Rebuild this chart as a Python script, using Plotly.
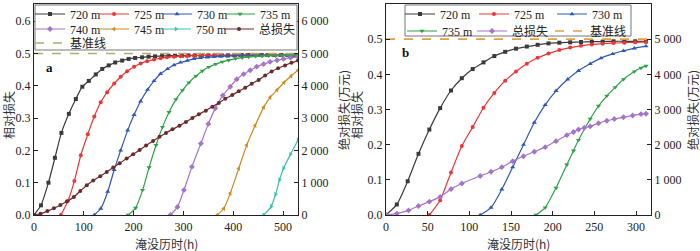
import plotly.graph_objects as go

# ---------------- Panel a data ----------------
a720_x = [0, 14, 29, 42, 55, 70, 84, 97, 110, 124, 137, 150, 163, 177, 190, 203, 217, 230, 243, 257, 270, 283, 297, 310, 323, 337, 350, 363, 377, 390, 403, 417, 430, 443, 457, 470, 483, 497, 510, 523, 530]
a720_y = [0, 0.030, 0.100, 0.177, 0.254, 0.313, 0.359, 0.397, 0.415, 0.435, 0.452, 0.463, 0.472, 0.478, 0.483, 0.486, 0.488, 0.490, 0.491, 0.492, 0.493, 0.493, 0.493, 0.494, 0.494, 0.494, 0.494, 0.494, 0.494, 0.494, 0.494, 0.495, 0.495, 0.495, 0.495, 0.495, 0.495, 0.495, 0.495, 0.495, 0.495]

a725_x = [54, 68, 81, 94, 108, 121, 134, 147, 161, 174, 187, 201, 214, 227, 241, 254, 267, 281, 294, 307, 321, 334, 347, 361, 374, 387, 401, 414, 427, 441, 454, 467, 481, 494, 507, 521, 530]
a725_y = [0, 0.043, 0.105, 0.185, 0.250, 0.305, 0.349, 0.380, 0.407, 0.428, 0.445, 0.459, 0.469, 0.476, 0.481, 0.485, 0.488, 0.490, 0.491, 0.492, 0.493, 0.493, 0.494, 0.494, 0.494, 0.494, 0.494, 0.495, 0.495, 0.495, 0.495, 0.495, 0.495, 0.495, 0.495, 0.495, 0.495]

a730_x = [121, 134, 148, 161, 174, 188, 201, 214, 228, 241, 254, 268, 281, 294, 308, 321, 334, 348, 361, 374, 388, 401, 414, 428, 441, 454, 468, 481, 494, 508, 521, 530]
a730_y = [0, 0.020, 0.072, 0.140, 0.200, 0.262, 0.310, 0.352, 0.388, 0.415, 0.437, 0.452, 0.464, 0.472, 0.478, 0.483, 0.486, 0.488, 0.490, 0.491, 0.492, 0.493, 0.493, 0.493, 0.494, 0.494, 0.494, 0.494, 0.494, 0.494, 0.494, 0.494]

a735_x = [189, 204, 218, 231, 245, 258, 271, 285, 298, 311, 325, 338, 351, 365, 378, 391, 405, 418, 431, 445, 458, 471, 485, 498, 511, 525, 530]
a735_y = [0, 0.022, 0.077, 0.147, 0.216, 0.272, 0.318, 0.358, 0.386, 0.410, 0.430, 0.446, 0.458, 0.467, 0.474, 0.479, 0.484, 0.487, 0.489, 0.491, 0.492, 0.493, 0.493, 0.494, 0.494, 0.494, 0.494]

a740_x = [274, 288, 301, 317, 335, 350, 364, 379, 394, 407, 421, 434, 447, 461, 474, 488, 501, 515, 530]
a740_y = [0, 0.025, 0.077, 0.149, 0.221, 0.282, 0.330, 0.370, 0.397, 0.420, 0.436, 0.448, 0.459, 0.467, 0.474, 0.479, 0.483, 0.487, 0.489]

a745_x = [368, 381, 394, 411, 427, 444, 461, 474, 488, 502, 516, 530]
a745_y = [0, 0.020, 0.067, 0.144, 0.216, 0.277, 0.333, 0.364, 0.387, 0.410, 0.430, 0.448]

a750_x = [461, 476, 485, 493, 501, 515, 530]
a750_y = [0, 0.026, 0.064, 0.109, 0.145, 0.188, 0.232]

atot_x = [0, 13, 27, 40, 53, 66, 80, 93, 106, 119, 133, 146, 159, 172, 186, 199, 212, 225, 239, 252, 265, 278, 292, 305, 318, 331, 345, 358, 371, 384, 398, 411, 424, 437, 451, 464, 477, 490, 504, 517, 530]
atot_y = [0, 40, 120, 210, 310, 420, 560, 740, 920, 1070, 1200, 1330, 1470, 1600, 1750, 1880, 2010, 2150, 2290, 2420, 2540, 2650, 2760, 2880, 3000, 3120, 3230, 3350, 3470, 3600, 3710, 3830, 3940, 4060, 4180, 4320, 4440, 4540, 4630, 4710, 4780]

# ---------------- Panel b data ----------------
b720_x = [0, 13, 26, 39, 52, 65, 78, 91, 104, 117, 130, 143, 156, 169, 182, 195, 208, 221, 234, 247, 260, 273, 286, 299, 312]
b720_y = [0, 0.030, 0.096, 0.174, 0.243, 0.304, 0.354, 0.389, 0.415, 0.434, 0.452, 0.464, 0.473, 0.479, 0.484, 0.488, 0.490, 0.491, 0.492, 0.493, 0.493, 0.494, 0.494, 0.494, 0.494]

b725_x = [52, 65, 78, 91, 104, 117, 130, 143, 156, 169, 182, 195, 208, 221, 234, 247, 260, 273, 286, 299, 312]
b725_y = [0, 0.042, 0.121, 0.196, 0.250, 0.305, 0.347, 0.382, 0.408, 0.430, 0.447, 0.459, 0.469, 0.476, 0.481, 0.485, 0.487, 0.489, 0.490, 0.491, 0.492]

b730_x = [113, 126, 139, 152, 165, 178, 191, 204, 218, 231, 245, 258, 272, 285, 298, 312]
b730_y = [0, 0.021, 0.073, 0.136, 0.200, 0.263, 0.313, 0.353, 0.386, 0.410, 0.430, 0.446, 0.458, 0.467, 0.474, 0.480]

b735_x = [180, 191, 204, 217, 225, 231, 245, 255, 265, 275, 285, 298, 306, 312]
b735_y = [0, 0.021, 0.077, 0.143, 0.183, 0.213, 0.273, 0.310, 0.339, 0.363, 0.386, 0.408, 0.418, 0.424]

btot_x = [0, 13, 27, 39, 52, 65, 78, 91, 113, 126, 139, 152, 165, 178, 191, 204, 217, 225, 231, 238, 245, 255, 265, 274, 285, 296, 306, 312]
btot_y = [0, 40, 130, 255, 380, 515, 736, 896, 1110, 1230, 1360, 1530, 1670, 1800, 1930, 2100, 2270, 2360, 2430, 2480, 2520, 2610, 2680, 2730, 2780, 2830, 2870, 2880]

baseline_a = [0.5, 0.5]
baseline_b = [0.5, 0.5]
xrange_a = [0, 530]
xrange_b = [0, 318]

SERIF = "Liberation Serif, Noto Sans CJK SC"
CJK = "Noto Sans CJK SC"

C720 = "#3a3a3a"
C725 = "#f03434"
C730 = "#2f58b5"
C735 = "#2fa246"
C740 = "#a374c9"
C745 = "#d08a1e"
C750 = "#3cbfb6"
CTOT_A = "#6b2b2b"
CBASE_A = "#b3aa70"
CBASE_B = "#e3a040"

L, R, T, B = 34, 49, 4, 36
W, H = 700, 251
PW = W - L - R
PH = H - T - B

def px(xp):
    return (xp - L) / PW

def py(yp):
    return (H - B - yp) / PH

fig = go.Figure()
leg_pos = []  # (legend id, x px of item start, y px of row centre)

def legend_id(pos):
    leg_pos.append(pos)
    n = len(leg_pos)
    return "legend" if n == 1 else "legend%d" % n

def add(x, y, name, color, symbol, xa, ya, pos, size=4):
    fig.add_trace(go.Scatter(
        x=x, y=y, name=name, mode="lines+markers", line=dict(color=color, width=1.2, shape="spline", smoothing=0.6),
        marker=dict(symbol=symbol, size=size, color=color), xaxis=xa, yaxis=ya, legend=legend_id(pos)))

# panel a
add(a720_x, a720_y, "720 m", C720, "square", "x", "y", (30, 14))
add(a725_x, a725_y, "725 m", C725, "circle", "x", "y", (94, 14))
add(a730_x, a730_y, "730 m", C730, "triangle-up", "x", "y", (157, 14), 4.5)
add(a735_x, a735_y, "735 m", C735, "triangle-down", "x", "y", (220, 14), 4.5)
add(a740_x, a740_y, "740 m", C740, "diamond", "x", "y", (30, 29), 4.5)
add(a745_x, a745_y, "745 m", C745, "triangle-left", "x", "y", (94, 29), 4.5)
add(a750_x, a750_y, "750 m", C750, "triangle-right", "x", "y", (156, 29), 4.5)
add(atot_x, atot_y, "总损失", CTOT_A, "circle", "x", "y2", (219, 29))
fig.add_trace(go.Scatter(x=xrange_a, y=baseline_a, name="基准线", mode="lines",
                         line=dict(color=CBASE_A, width=1.6, dash="dash"), xaxis="x", yaxis="y",
                         legend=legend_id((30, 43))))

# panel b
add(b720_x, b720_y, "720 m", C720, "square", "x2", "y3", (400, 14))
add(b725_x, b725_y, "725 m", C725, "circle", "x2", "y3", (474, 14))
add(b730_x, b730_y, "730 m", C730, "triangle-up", "x2", "y3", (552, 14), 4.5)
add(b735_x, b735_y, "735 m", C735, "triangle-down", "x2", "y3", (402, 31), 4.5)
add(btot_x, btot_y, "总损失", C740, "diamond", "x2", "y4", (472, 31), 4.5)
fig.add_trace(go.Scatter(x=xrange_b, y=baseline_b, name="基准线", mode="lines",
                         line=dict(color=CBASE_B, width=1.6, dash="dash"), xaxis="x2", yaxis="y3",
                         legend=legend_id((550, 31))))

axis_common = dict(showline=True, linecolor="#222", linewidth=1.2, ticks="inside", ticklen=4,
                   tickcolor="#222", showgrid=False, zeroline=False, automargin=False,
                   tickfont=dict(family=SERIF, size=12, color="#222"))

right_vals = [0, 1000, 2000, 3000, 4000, 5000, 6000]
right_text = ["0", "1 000", "2 000", "3 000", "4 000", "5 000", "6 000"]
left_vals = [0, 0.1, 0.2, 0.3, 0.4, 0.5, 0.6]

fig.update_layout(
    width=W, height=H, margin=dict(l=L, r=R, t=T, b=B, autoexpand=False),
    paper_bgcolor="white", plot_bgcolor="white",
    xaxis=dict(domain=[0, px(298)], range=xrange_a, anchor="y", mirror=True, dtick=100, **axis_common),
    yaxis=dict(domain=[0, 1], range=[0, 0.653], anchor="x", tickvals=left_vals, tickformat=".1f", **axis_common),
    yaxis2=dict(range=[0, 6530], anchor="x", overlaying="y", side="right", tickvals=right_vals, ticktext=right_text, **axis_common),
    xaxis2=dict(domain=[px(386), 1], range=xrange_b, anchor="y3", mirror=True, dtick=50, **axis_common),
    yaxis3=dict(domain=[0, 1], range=[0, 0.6], anchor="x2", tickvals=left_vals, tickformat=".1f", **axis_common),
    yaxis4=dict(range=[0, 6000], anchor="x2", overlaying="y3", side="right", tickvals=right_vals, ticktext=right_text, **axis_common),
    showlegend=True,
)

leg_common = dict(orientation="h", xanchor="left", yanchor="middle", bgcolor="rgba(0,0,0,0)",
                  font=dict(family=SERIF, size=12, color="#222"),
                  itemwidth=30, borderwidth=0, tracegroupgap=0)
legs = {}
for i, (lx, ly) in enumerate(leg_pos):
    key = "legend" if i == 0 else "legend%d" % (i + 1)
    legs[key] = dict(x=px(lx), y=py(ly), **leg_common)
fig.update_layout(**legs)

fig.add_shape(type="rect", xref="paper", yref="paper", x0=px(35), x1=px(297), y0=py(50), y1=py(5),
              line=dict(color="#777", width=1), fillcolor="white", layer="above")
fig.add_shape(type="rect", xref="paper", yref="paper", x0=px(405), x1=px(631), y0=py(36), y1=py(5),
              line=dict(color="#777", width=1), fillcolor="white", layer="above")

ann = []
ann.append(dict(text="<b>a</b>", x=px(49), y=py(67), font=dict(family=SERIF, size=13, color="#111")))
ann.append(dict(text="<b>b</b>", x=px(405), y=py(53), font=dict(family=SERIF, size=13, color="#111")))
ann.append(dict(text="相对损失", x=px(8), y=py(115), textangle=-90, font=dict(family=CJK, size=12, color="#333")))
ann.append(dict(text="绝对损失(万元)", x=px(343), y=py(110), textangle=-90, font=dict(family=CJK, size=12, color="#333")))
ann.append(dict(text="相对损失", x=px(356), y=py(115), textangle=-90, font=dict(family=CJK, size=12, color="#333")))
ann.append(dict(text="绝对损失(万元)", x=px(692), y=py(110), textangle=-90, font=dict(family=CJK, size=12, color="#333")))
ann.append(dict(text="淹没历时(h)", x=px(166), y=py(243), font=dict(family=CJK, size=12, color="#333")))
ann.append(dict(text="淹没历时(h)", x=px(518), y=py(243), font=dict(family=CJK, size=12, color="#333")))
for a in ann:
    a.update(xref="paper", yref="paper", showarrow=False, xanchor="center", yanchor="middle")
fig.update_layout(annotations=ann)

fig.write_html("out.html", config={"displayModeBar": False},
               post_script="document.body.style.margin='0';document.body.style.padding='0';")
